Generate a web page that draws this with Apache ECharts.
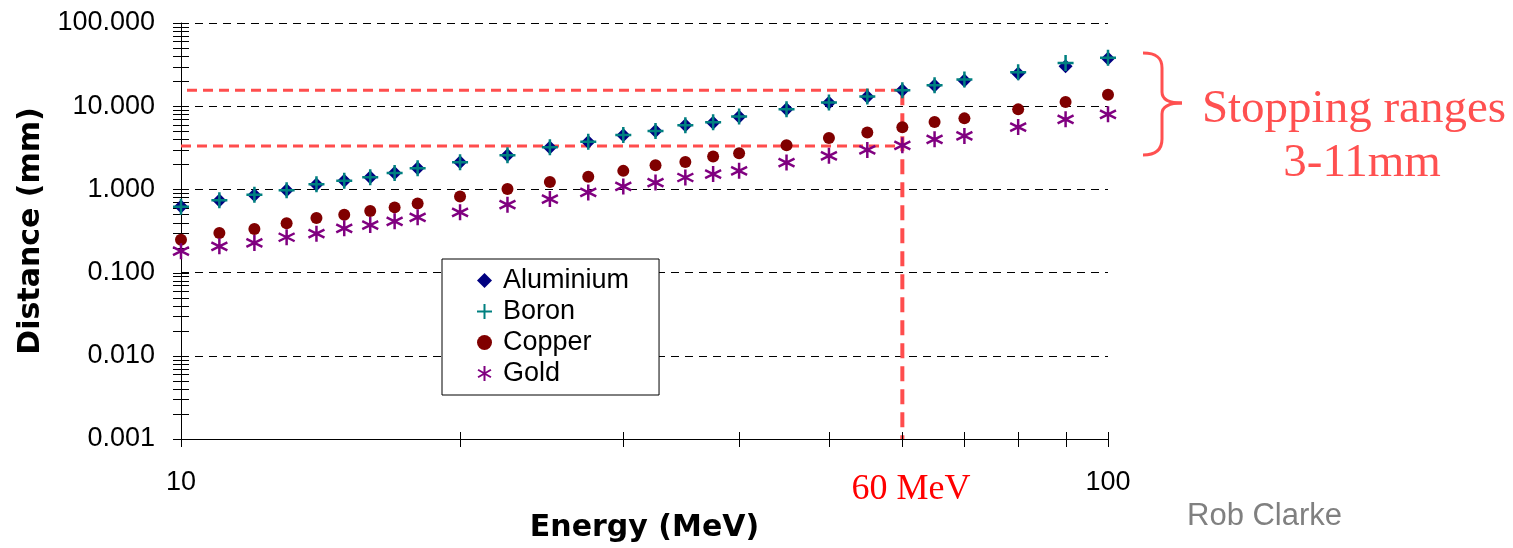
<!DOCTYPE html>
<html>
<head>
<meta charset="utf-8">
<script src="https://cdn.jsdelivr.net/npm/echarts@6/dist/echarts.min.js"></script>
<style>
  html, body { margin: 0; padding: 0; background: #fff; }
  #chart { width: 1513px; height: 548px; }
</style>
</head>
<body>
<div id="chart"></div>
<script>
// Proton energies (MeV)
const energies = [10, 11, 12, 13, 14, 15, 16, 17, 18, 20, 22.5, 25, 27.5, 30, 32.5, 35, 37.5, 40, 45, 50, 55, 60, 65, 70, 80, 90, 100];

// Stopping distance (mm) per material
const aluminium = [0.625, 0.738, 0.855, 0.98, 1.148, 1.27, 1.40, 1.57, 1.80, 2.12, 2.57, 3.18, 3.72, 4.47, 5.03, 5.89, 6.34, 7.48, 9.16, 11.0, 13.0, 15.5, 17.7, 20.4, 24.7, 30.2, 37.4];
const boron     = [0.62, 0.74, 0.86, 0.98, 1.15, 1.27, 1.40, 1.57, 1.80, 2.12, 2.58, 3.20, 3.75, 4.50, 5.05, 5.92, 6.40, 7.50, 9.20, 11.1, 13.1, 15.6, 17.9, 20.9, 25.6, 33.0, 38.3];
const copper    = [0.249, 0.30, 0.335, 0.392, 0.453, 0.497, 0.55, 0.608, 0.679, 0.824, 1.01, 1.23, 1.42, 1.67, 1.95, 2.14, 2.48, 2.72, 3.39, 4.15, 4.82, 5.57, 6.45, 7.14, 9.16, 11.2, 13.7];
const gold      = [0.181, 0.207, 0.227, 0.266, 0.294, 0.341, 0.373, 0.414, 0.462, 0.531, 0.655, 0.765, 0.92, 1.086, 1.21, 1.39, 1.53, 1.67, 2.10, 2.53, 2.98, 3.39, 4.0, 4.39, 5.62, 6.95, 7.98];

// Axis ranges and tick positions
const xRange = [10, 100];
const yRange = [0.001, 100];
const xTickValues = [10, 20, 30, 40, 50, 60, 70, 80, 90, 100];
const yDecades = [0.001, 0.01, 0.1, 1, 10];
const yTickValues = [100];
yDecades.forEach(d => { for (let m = 1; m <= 9; m++) yTickValues.push(+(d * m).toPrecision(3)); });

// Highlighted stopping ranges at 60 MeV
const markEnergy = 60;
const markUpper = 15.6;
const markLower = 3.33;
const markStartUpper = 10.15;

const names = ['Aluminium', 'Boron', 'Copper', 'Gold'];
const pair = ys => energies.map((e, i) => [e, ys[i]]);

const plusPath = 'path://M5,0L5,10M0,5L10,5';
const starPath = 'path://M5,0L5,10M0.7,2.5L9.3,7.5M0.7,7.5L9.3,2.5';

const chart = echarts.init(document.getElementById('chart'), null, { renderer: 'canvas' });

const tickStyle = { stroke: '#000', lineWidth: 1 };
const braceStyle = { fill: 'none', stroke: '#ff5050', lineWidth: 3 };
const bez = (x1, y1, cpx1, cpy1, cpx2, cpy2, x2, y2) => ({
  type: 'bezierCurve', z: 20, shape: { x1, y1, cpx1, cpy1, cpx2, cpy2, x2, y2 }, style: braceStyle
});
const seg = (x1, y1, x2, y2) => ({ type: 'line', z: 20, shape: { x1, y1, x2, y2 }, style: braceStyle });

chart.setOption({
  animation: false,
  backgroundColor: '#fff',
  grid: { left: 181, right: 405, top: 23, bottom: 108 },
  legend: {
    orient: 'vertical',
    left: 442,
    top: 259,
    data: names,
    backgroundColor: '#fff',
    borderColor: '#000',
    borderWidth: 1,
    padding: [8, 30, 8, 34],
    itemWidth: 15,
    itemHeight: 15,
    itemGap: 4,
    textStyle: { fontFamily: 'Liberation Sans', fontSize: 27, color: '#000', padding: [0, 0, 0, 6] }
  },
  xAxis: {
    type: 'log',
    logBase: 10,
    min: xRange[0],
    max: xRange[1],
    name: 'Energy (MeV)',
    nameLocation: 'middle',
    nameGap: 74,
    nameTextStyle: { fontFamily: 'DejaVu Sans', fontWeight: 'bold', fontSize: 30, color: '#000' },
    axisLine: { show: true, lineStyle: { color: '#000', width: 1 } },
    axisTick: { show: false },
    splitLine: { show: false },
    axisLabel: { margin: 30, fontFamily: 'Liberation Sans', fontSize: 27, color: '#000' }
  },
  yAxis: {
    type: 'log',
    logBase: 10,
    min: yRange[0],
    max: yRange[1],
    name: 'Distance (mm)',
    nameLocation: 'middle',
    nameGap: 134,
    nameTextStyle: { fontFamily: 'DejaVu Sans', fontWeight: 'bold', fontSize: 30, color: '#000' },
    axisLine: { show: true, lineStyle: { color: '#000', width: 1 } },
    axisTick: { show: false },
    splitLine: { show: true, lineStyle: { color: '#000', width: 1, type: [8, 6] } },
    axisLabel: {
      margin: 26,
      fontFamily: 'Liberation Sans', fontSize: 27, color: '#000',
      formatter: v => v.toFixed(3)
    }
  },
  series: [
    {
      type: 'custom', name: 'yticks', silent: true, z: 5,
      data: yTickValues.map(v => [xRange[0], v]),
      renderItem: (params, api) => {
        const p = api.coord([api.value(0), api.value(1)]);
        const y = Math.round(p[1]) + 0.5;
        return { type: 'line', shape: { x1: p[0] - 8, y1: y, x2: p[0] + 8, y2: y }, style: tickStyle };
      }
    },
    {
      type: 'custom', name: 'xticks', silent: true, z: 5,
      data: xTickValues.map(v => [v, yRange[0]]),
      renderItem: (params, api) => {
        const p = api.coord([api.value(0), api.value(1)]);
        const x = Math.round(p[0]) + 0.5;
        return { type: 'line', shape: { x1: x, y1: p[1] - 7, x2: x, y2: p[1] + 8 }, style: tickStyle };
      }
    },
    {
      type: 'line', name: 'upper', silent: true, symbol: 'none', z: 3,
      data: [[markStartUpper, markUpper], [markEnergy, markUpper]],
      lineStyle: { color: '#ff4d4d', width: 3, type: [10, 6] }
    },
    {
      type: 'line', name: 'lower', silent: true, symbol: 'none', z: 3,
      data: [[xRange[0], markLower], [markEnergy, markLower]],
      lineStyle: { color: '#ff4d4d', width: 3, type: [10, 6] }
    },
    {
      type: 'line', name: 'energyMark', silent: true, symbol: 'none', z: 3,
      data: [[markEnergy, markUpper], [markEnergy, yRange[0]]],
      lineStyle: { color: '#ff4d4d', width: 4, type: [15, 8] }
    },
    {
      type: 'scatter', name: 'Aluminium', z: 10,
      data: pair(aluminium),
      symbol: 'diamond', symbolSize: 14,
      itemStyle: { color: '#000080', opacity: 1 }
    },
    {
      type: 'scatter', name: 'Boron', z: 11,
      data: pair(boron),
      symbol: plusPath, symbolSize: 16,
      itemStyle: { color: '#008080', borderColor: '#008080', borderWidth: 2.5, opacity: 1 }
    },
    {
      type: 'scatter', name: 'Copper', z: 12,
      data: pair(copper),
      symbol: 'circle', symbolSize: 12,
      itemStyle: { color: '#800000', opacity: 1 }
    },
    {
      type: 'scatter', name: 'Gold', z: 13,
      data: pair(gold),
      symbol: starPath, symbolSize: 16,
      itemStyle: { color: '#800080', borderColor: '#800080', borderWidth: 2.5, opacity: 1 }
    }
  ],
  graphic: [
    bez(1143, 53, 1157, 53, 1162, 58, 1162, 68),
    seg(1162, 68, 1162, 92),
    bez(1162, 92, 1162, 100, 1169, 103, 1182, 103),
    bez(1182, 103, 1169, 103, 1162, 106, 1162, 114),
    seg(1162, 114, 1162, 139),
    bez(1162, 139, 1162, 149, 1157, 155, 1143, 155),
    {
      type: 'text', z: 20, x: 1354, y: 110,
      style: { text: 'Stopping ranges', fill: '#ff5050', font: '47px "Liberation Serif"', textAlign: 'center', textVerticalAlign: 'middle' }
    },
    {
      type: 'text', z: 20, x: 1362, y: 164,
      style: { text: '3-11mm', fill: '#ff5050', font: '47px "Liberation Serif"', textAlign: 'center', textVerticalAlign: 'middle' }
    },
    {
      type: 'text', z: 20, x: 911, y: 490,
      style: { text: '60 MeV', fill: '#ff0000', font: '36px "Liberation Serif"', textAlign: 'center', textVerticalAlign: 'middle' }
    },
    {
      type: 'text', z: 20, x: 1187, y: 516,
      style: { text: 'Rob Clarke', fill: '#808080', font: '31px "Liberation Sans"', textAlign: 'left', textVerticalAlign: 'middle' }
    }
  ]
});
</script>
</body>
</html>
